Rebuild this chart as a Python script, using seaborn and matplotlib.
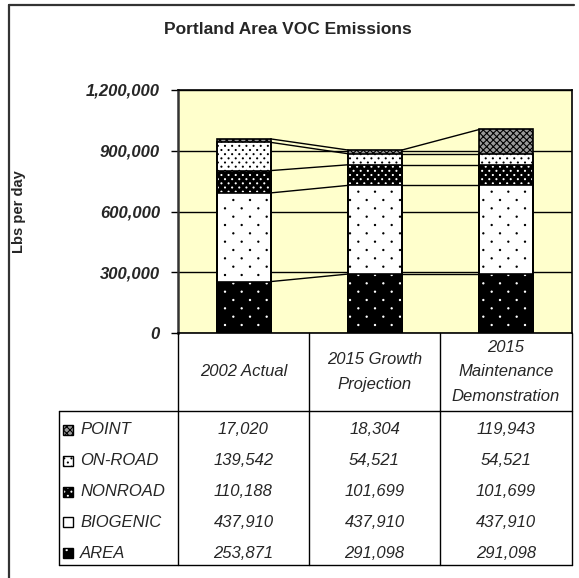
import warnings
import numpy as np
import seaborn as sns
import matplotlib.pyplot as plt
import matplotlib.hatch as mhatch
from matplotlib.path import Path
from matplotlib.patches import Rectangle
from matplotlib.lines import Line2D

warnings.filterwarnings('ignore')

# --- data ---
categories = ['2002 Actual', '2015 Growth\nProjection', '2015\nMaintenance\nDemonstration']
sources = ['AREA', 'BIOGENIC', 'NONROAD', 'ON-ROAD', 'POINT']   # bottom -> top of stack
area = [253871, 291098, 291098]
biogenic = [437910, 437910, 437910]
nonroad = [110188, 101699, 101699]
onroad = [139542, 54521, 54521]
point = [17020, 18304, 119943]
yticks = [0, 300000, 600000, 900000, 1200000]

series = {'AREA': area, 'BIOGENIC': biogenic, 'NONROAD': nonroad,
          'ON-ROAD': onroad, 'POINT': point}


# Excel-like dotted fills: 'd' = sparse dots, 'D' = dense dots
class DotLattice(mhatch.HatchPatternBase):
    def __init__(self, hatch, density):
        self.centres = []
        self.r = 0
        rows = cols = 0
        if hatch and 'd' in hatch:
            rows, cols, self.r = 12, 6, 0.006
        elif hatch and 'D' in hatch:
            rows, cols, self.r = 24, 14, 0.005
        if rows:
            for i in range(rows + 1):
                off = 0.0 if i % 2 == 0 else 0.5
                for j in range(cols + 1):
                    cx = (j + off) / cols
                    if cx <= 1.0:
                        self.centres.append((cx, i / rows))
        circle = Path.unit_circle()
        self.shape_vertices = circle.vertices
        self.shape_codes = circle.codes
        self.num_vertices = len(self.centres) * len(self.shape_vertices)

    def set_vertices_and_codes(self, vertices, codes):
        n = len(self.shape_vertices)
        for k, (cx, cy) in enumerate(self.centres):
            vertices[k * n:(k + 1) * n] = self.shape_vertices * self.r + (cx, cy)
            codes[k * n:(k + 1) * n] = self.shape_codes


mhatch._hatch_types.append(DotLattice)

# face colour, dot colour, hatch
styles = {
    'AREA': ('black', 'white', 'd'),
    'BIOGENIC': ('white', 'black', 'd'),
    'NONROAD': ('black', 'white', 'D'),
    'ON-ROAD': ('white', 'black', 'D'),
    'POINT': ('#999999', 'black', 'xxxxx'),
}

sns.set_style('white')
plt.rcParams['font.family'] = ['Liberation Sans', 'DejaVu Sans']
plt.rcParams['hatch.linewidth'] = 0.8

W, H = 579, 578
fig = plt.figure(figsize=(W / 100, H / 100), dpi=100)


def fx(x):
    return x / W


def fy(y):
    return 1 - y / H


# plot area in pixel coords: x 178..572, y 90..333
ax = fig.add_axes([fx(178), fy(333), (572 - 178) / W, (333 - 90) / H])
ax.set_facecolor('#FFFFCC')

bar_w = 0.41
cum = np.cumsum([series[s] for s in sources], axis=0)

# draw cumulative totals from the top down so each layer covers the one above it
for k in range(len(sources) - 1, -1, -1):
    face, dots, hatch = styles[sources[k]]
    n0 = len(ax.patches)
    sns.barplot(x=categories, y=cum[k], ax=ax, color=face, saturation=1,
                width=bar_w, edgecolor=dots, linewidth=0, hatch=hatch, zorder=3)
    for p in ax.patches[n0:]:
        ax.add_patch(Rectangle(p.get_xy(), p.get_width(), p.get_height(),
                               fill=False, edgecolor='black', lw=1.2, zorder=4))

# series lines between bars
for k in range(len(sources)):
    for i in range(len(categories) - 1):
        ax.plot([i + bar_w / 2, i + 1 - bar_w / 2], [cum[k][i], cum[k][i + 1]],
                color='black', lw=1, zorder=2)

ax.set_xlim(-0.5, 2.5)
ax.set_ylim(0, 1200000)
ax.set_yticks(yticks)
ax.set_yticklabels([f'{v:,}' for v in yticks], fontsize=12, fontweight='bold',
                   fontstyle='italic')
ax.set_xticks([])
ax.set_xlabel('')
ax.grid(axis='y', color='black', lw=1, zorder=1)
ax.set_axisbelow(True)
ax.tick_params(axis='y', left=True, length=5, width=1, color='black', pad=8)
for s in ax.spines.values():
    s.set_color('black')
    s.set_linewidth(1.2)
ax.spines['left'].set_linewidth(1.8)
ax.spines['left'].set_color('#333333')

fig.text(fx(288), fy(30), 'Portland Area VOC Emissions', ha='center', va='center',
         fontsize=12.5, fontweight='bold')
fig.text(fx(19), fy(212), 'Lbs per day', ha='center', va='center', rotation=90,
         fontsize=10.5, fontweight='bold')


def line(x0, y0, x1, y1, lw=1, color='black'):
    fig.add_artist(Line2D([fx(x0), fx(x1)], [fy(y0), fy(y1)], transform=fig.transFigure,
                          color=color, lw=lw))


# outer chart frame (cut off at right and bottom)
line(9, 5, 574, 5, lw=1.6, color='#333333')
line(9, 5, 9, 578, lw=1.6, color='#333333')

# data table
col_x = [178, 309, 440, 572]
head_top, head_bot, tab_bot, tab_left = 333, 411, 565, 59
for x in col_x:
    line(x, head_top, x, tab_bot)
line(tab_left, head_bot, col_x[-1], head_bot)
line(tab_left, tab_bot, col_x[-1], tab_bot)
line(tab_left, head_bot, tab_left, tab_bot)

for j, cat in enumerate(categories):
    cx = (col_x[j] + col_x[j + 1]) / 2
    fig.text(fx(cx), fy(372), cat, ha='center', va='center',
             fontsize=12, fontstyle='italic', linespacing=1.8)

row_h = 30.8
for r, src in enumerate(sources[::-1]):
    cy = 430 + row_h * r
    face, dots, hatch = styles[src]
    fig.add_artist(Rectangle((fx(63), fy(cy + 5)), 10 / W, 10 / H, transform=fig.transFigure,
                             facecolor=face, edgecolor=dots, hatch=hatch, lw=0))
    fig.add_artist(Rectangle((fx(63), fy(cy + 5)), 10 / W, 10 / H, transform=fig.transFigure,
                             fill=False, edgecolor='black', lw=1))
    fig.text(fx(80), fy(cy), src, ha='left', va='center', fontsize=12, fontstyle='italic')
    for j, v in enumerate(series[src]):
        cx = (col_x[j] + col_x[j + 1]) / 2
        fig.text(fx(cx), fy(cy), f'{v:,}', ha='center', va='center', fontsize=12,
                 fontstyle='italic')

fig.savefig('out.png', dpi=100, facecolor='white')
